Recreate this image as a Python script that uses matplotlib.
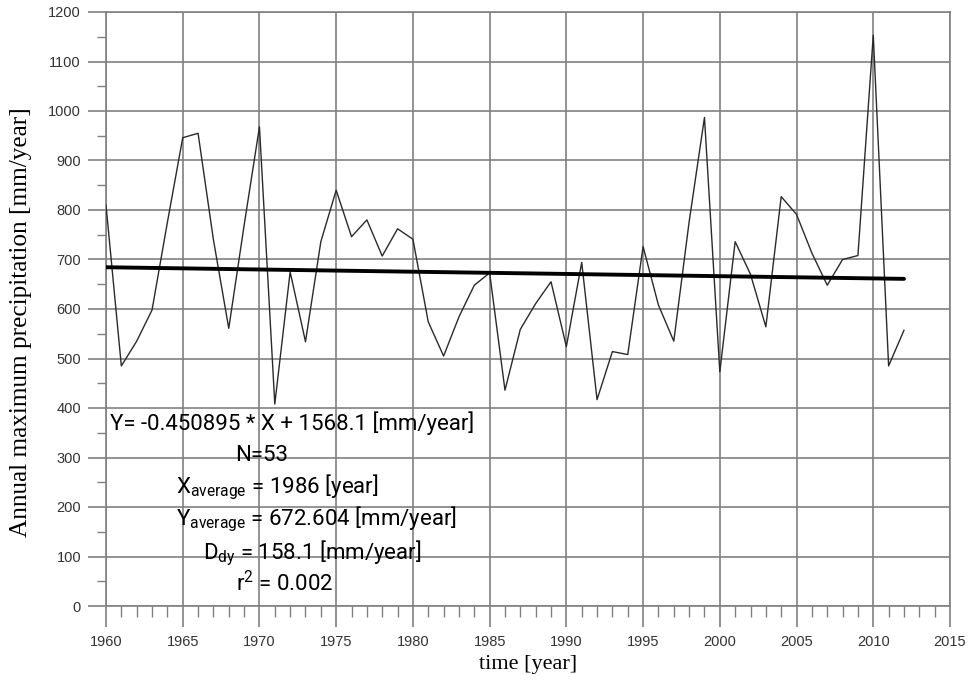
import matplotlib.pyplot as plt
import numpy as np
from matplotlib.ticker import MultipleLocator

# Annual maximum precipitation
years = np.arange(1960, 2013)
precip = [810, 485, 535, 598, 775, 946, 955, 740, 561, 769,
          968, 408, 675, 534, 736, 840, 746, 780, 707, 762,
          741, 574, 505, 584, 648, 673, 436, 559, 611, 655,
          524, 694, 417, 514, 508, 726, 608, 535, 776, 987,
          473, 736, 670, 564, 827, 791, 713, 648, 700, 708,
          1153, 485, 557]

# regression from the chart annotation
slope = -0.450895
intercept = 1568.1
trend_years = [1960, 2012]

eq_line = "Y= -0.450895 * X + 1568.1 [mm/year]"
stats_lines = [
    "N=53",
    r"$\mathregular{X_{average}}$ = 1986 [year]",
    r"$\mathregular{Y_{average}}$ = 672.604 [mm/year]",
    r"$\mathregular{D_{dy}}$ = 158.1 [mm/year]",
    r"$\mathregular{r^2}$ = 0.002",
]

plt.rcParams['font.family'] = ['Roboto', 'DejaVu Sans']

fig = plt.figure(figsize=(9.69, 6.92), dpi=100)
ax = fig.add_axes([106/969, 1 - 606/692, (950-106)/969, (606-12)/692])

ax.plot(years, precip, color='#2a2a2a', lw=1.0, zorder=3)
trend = [slope*x + intercept for x in trend_years]
ax.plot(trend_years, trend, color='black', lw=2.8, solid_capstyle='round', zorder=4)

ax.set_xlim(1960, 2015)
ax.set_ylim(0, 1200)
ax.xaxis.set_major_locator(MultipleLocator(5))
ax.xaxis.set_minor_locator(MultipleLocator(1))
ax.yaxis.set_major_locator(MultipleLocator(100))
ax.yaxis.set_minor_locator(MultipleLocator(50))

gc = '#808080'
ax.grid(which='major', color=gc, lw=1.2)
for s in ax.spines.values():
    s.set_color(gc)
    s.set_linewidth(1.2)
ax.tick_params(which='major', axis='x', length=15, width=1.2, color=gc, pad=6,
               labelsize=10.5, labelcolor='#333333')
ax.tick_params(which='minor', axis='x', length=8, width=1.0, color=gc)
ax.tick_params(which='major', axis='y', length=13, width=1.2, color=gc, pad=5,
               labelsize=10.5, labelcolor='#333333')
ax.tick_params(which='minor', axis='y', length=6.5, width=1.0, color=gc)
for lab in ax.get_xticklabels() + ax.get_yticklabels():
    lab.set_family('Liberation Sans')

ax.set_xlabel('time [year]', family='Liberation Serif', fontsize=16, labelpad=4)
ax.set_ylabel('Annual maximum precipitation [mm/year]', family='Liberation Serif',
              fontsize=18.2, labelpad=6)
ax.yaxis.set_label_coords(-0.088, 0.478)

ax.text(1960.26, 370, eq_line, fontsize=16, ha='left', va='center',
        color='black', zorder=5)
lefts = [(1968.4, 305), (1964.56, 240), (1964.56, 174), (1966.3, 107), (1968.5, 46)]
for txt, (lx, cy) in zip(stats_lines, lefts):
    ax.text(lx, cy, txt, fontsize=16, ha='left', va='center', color='black', zorder=5)

fig.savefig('out.png', dpi=100)
